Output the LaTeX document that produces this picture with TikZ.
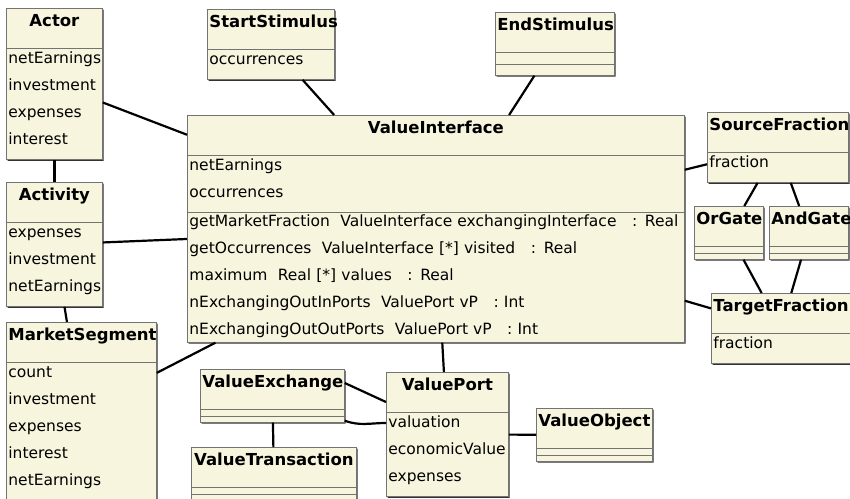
\documentclass[tikz,border=0pt]{standalone}
\usepackage{fontspec}
\setmainfont{DejaVu Sans}
\usepackage{xcolor}
\usetikzlibrary{shapes.multipart, shadows}

\definecolor{classfill}{RGB}{247,245,222}
\newcommand{\titlestrut}{\rule[-20.5pt]{0pt}{37.5pt}}
\newcommand{\rowstrut}{\rule[-14pt]{0pt}{27pt}}
\newcommand{\classname}[1]{\centering{\fontsize{16.5}{27}\selectfont\bfseries #1}\titlestrut\par}
\newcommand{\attr}[1]{\rowstrut#1\par}
\newcommand{\lastop}[1]{\rule[-6pt]{0pt}{19pt}#1\par}
\newcommand{\emptypart}[1][3.5pt]{\rule{0pt}{#1}\par}

\begin{document}
\begin{tikzpicture}[
        x=1pt, y=-1pt,
        umlclass/.style={rectangle split, rectangle split parts=2, draw=black!55, line width=0.8pt, fill=classfill, inner xsep=2pt, inner ysep=1pt, align=left, anchor=north west, font=\fontsize{15.5}{27}\selectfont, drop shadow={shadow xshift=1.3pt, shadow yshift=-1.3pt, fill=black!80, opacity=1}},
        line/.style={draw, line width=2.2pt}
    ]
        \path [use as bounding box, fill=white] (0,0) rectangle (850,498);

        \node [umlclass, text width=92pt] (actor) at (6,8) {\classname{Actor}\nodepart{two}\attr{netEarnings}\attr{investment}\attr{expenses}\attr{interest}};
        \node [umlclass, text width=92pt] (activity) at (6,182) {\classname{Activity}\nodepart{two}\attr{expenses}\attr{investment}\attr{netEarnings}};
        \node [umlclass, text width=146pt] (market) at (6,322) {\classname{MarketSegment}\nodepart{two}\attr{count}\attr{investment}\attr{expenses}\attr{interest}\attr{netEarnings}};
        \node [umlclass, text width=123pt] (startstim) at (207,9) {\classname{StartStimulus}\nodepart{two}\attr{occurrences}};
        \node [umlclass, rectangle split parts=3, text width=115pt] (endstim) at (495,12) {\classname{EndStimulus}\nodepart{two}\emptypart[8.5pt]\nodepart{three}\emptypart[8.5pt]};
        \node [umlclass, rectangle split parts=3, text width=493pt] (iface) at (187,115) {\classname{ValueInterface}\nodepart{two}\attr{netEarnings}\attr{occurrences}
            \nodepart{three}\attr{getMarketFraction\ \ ValueInterface exchangingInterface\ \ \ : Real}\attr{getOccurrences\ \ ValueInterface [*] visited\ \ \ : Real}\attr{maximum\ \ Real [*] values\ \ \ : Real}\attr{nExchangingOutInPorts\ \ ValuePort vP\ \ \ : Int}\lastop{nExchangingOutOutPorts\ \ ValuePort vP\ \ \ : Int}};
        \node [umlclass, text width=137pt] (sourcefrac) at (707,112) {\classname{SourceFraction}\nodepart{two}\attr{fraction}};
        \node [umlclass, rectangle split parts=3, text width=65pt] (orgate) at (694,206) {\classname{OrGate}\nodepart{two}\emptypart\nodepart{three}\emptypart};
        \node [umlclass, rectangle split parts=3, text width=75pt] (andgate) at (769,206) {\classname{AndGate}\nodepart{two}\emptypart\nodepart{three}\emptypart};
        \node [umlclass, text width=135pt] (targetfrac) at (711,293) {\classname{TargetFraction}\nodepart{two}\attr{fraction}};
        \node [umlclass, text width=118pt] (valueport) at (386,372) {\classname{ValuePort}\nodepart{two}\attr{valuation}\attr{economicValue}\attr{expenses}};
        \node [umlclass, rectangle split parts=3, text width=140pt] (valueexch) at (200,369) {\classname{ValueExchange}\nodepart{two}\emptypart\nodepart{three}\emptypart};
        \node [umlclass, rectangle split parts=3, text width=161pt] (valuetrans) at (191,447) {\classname{ValueTransaction}\nodepart{two}\emptypart\nodepart{three}\emptypart};
        \node [umlclass, rectangle split parts=3, text width=112pt] (valueobj) at (536,408) {\classname{ValueObject}\nodepart{two}\emptypart\nodepart{three}\emptypart};

        \path [line] (actor) -- (iface);
        \path [line] (actor) -- (activity);
        \path [line] (activity) -- (iface);
        \path [line] (activity) -- (market);
        \path [line] (market) -- (iface);
        \path [line] (startstim) -- (iface);
        \path [line] (endstim) -- (iface);
        \path [line] (iface) -- (sourcefrac);
        \path [line] (iface) -- (targetfrac);
        \path [line] (sourcefrac) -- (orgate);
        \path [line] (sourcefrac) -- (andgate);
        \path [line] (orgate) -- (targetfrac);
        \path [line] (andgate) -- (targetfrac);
        \path [line] (iface) -- (valueport);
        \path [line] (valueport) -- (valueobj);
        \path [line] (valueexch) -- (valuetrans);
        \path [line] ([yshift=-14pt]valueexch.north east) -- ([yshift=-30pt]valueport.north west);
        \path [line] ([yshift=2pt]valueexch.south east) to [out=-20, in=180] ([yshift=-51pt]valueport.north west);
    \end{tikzpicture}
\end{document}
